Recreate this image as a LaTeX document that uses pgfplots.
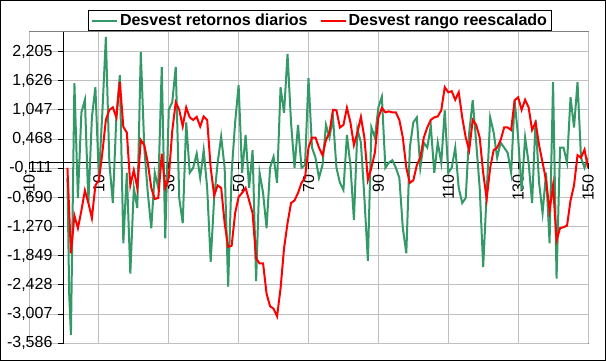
\documentclass[border=0pt]{standalone}
\usepackage{fontspec}
\setmainfont{Liberation Sans}
\usepackage{pgfplots}
\pgfplotsset{compat=1.18}
\usepackage{pgfplotstable}
\definecolor{sgreen}{HTML}{339966}
\definecolor{gridc}{HTML}{C0C0C0}
\definecolor{framec}{HTML}{808080}

\pgfplotstableread{
x y
1 -0.3
1.5 -2.6
2 -3.42
3 1.58
4 -0.7
5 1.0
6 1.25
7 -0.8
8 0.9
9 1.5
10 -0.3
11 1.0
12 2.5
13 0.0
14 -0.8
15 0.9
16 1.74
17 -1.6
18 -0.2
19 -2.2
20 -0.5
21 -0.9
22 2.2
23 0.3
24 -0.6
25 -1.3
26 -0.2
27 -0.5
28 1.9
29 -1.5
30 1.05
31 1.2
32 1.9
33 -0.7
34 -1.2
35 0.8
36 -0.2
37 -0.1
38 0.18
39 -0.3
40 0.25
41 -0.5
42 -1.97
43 -0.7
44 0.0
45 0.52
46 -0.1
47 -2.46
48 -0.2
49 0.8
50 1.54
51 -0.2
52 0.55
53 -0.5
54 0.25
55 -2.35
56 -0.2
57 -0.6
58 -1.3
59 -0.1
60 0.12
61 -0.4
62 1.5
63 0.99
64 2.16
65 0.8
66 -0.1
67 0.75
68 -0.1
69 -0.05
70 1.68
71 0.3
72 0.1
73 -0.3
74 -0.05
75 0.75
76 0.5
77 0.9
78 -0.1
79 -0.4
80 -0.54
81 0.55
82 -0.05
83 -1.14
84 0.67
85 0.4
86 -0.7
87 -1.95
88 0.7
89 0.5
90 1.1
91 1.31
92 -0.1
93 0.0
94 0.05
95 -0.1
96 -0.3
97 -1.3
98 -1.8
99 0.3
100 0.8
101 0.9
102 -0.1
103 0.4
104 0.3
105 0.73
106 -0.2
107 0.4
108 0.0
109 1.04
110 -0.2
111 -0.1
112 0.3
113 -0.5
114 -0.8
115 -0.7
116 0.6
117 1.24
118 0.4
119 -0.5
120 -2.07
121 -0.6
122 0.9
123 0.6
124 0.1
125 0.4
126 0.3
127 0.2
128 -0.2
129 1.24
130 0.5
131 -0.55
132 0.5
133 0.0
134 -0.8
135 0.85
136 -0.4
137 -1.0
138 -0.2
139 -1.6
140 1.6
141 -2.3
142 0.3
143 0.3
144 0.0
145 1.3
146 0.7
147 1.6
148 0.1
149 -0.1
150 0.1
}\greentab

\pgfplotstableread{
x y
1 -0.1
2 -1.8
3 -1.05
4 -1.3
5 -0.95
6 -0.55
7 -0.8
8 -1.1
9 -0.45
10 -0.35
11 0.2
12 0.85
13 1.05
14 1.1
15 0.9
16 1.61
17 0.71
18 0.6
19 -0.45
20 -0.15
21 -0.5
22 0.45
23 0.35
24 0.0
25 -0.5
26 -0.72
27 -0.7
28 0.18
29 -0.5
30 -0.3
31 0.63
32 1.2
33 1.05
34 0.72
35 1.1
36 0.9
37 0.85
38 0.91
39 0.72
40 0.92
41 0.85
42 -0.1
43 -0.65
44 -0.45
45 -0.5
46 -1.2
47 -1.67
48 -1.65
49 -1.0
50 -0.68
51 -0.6
52 -0.5
53 -0.75
54 -1.0
55 -1.9
56 -2.0
57 -2.0
58 -2.6
59 -2.85
60 -2.9
61 -3.05
62 -2.5
63 -1.7
64 -1.2
65 -0.8
66 -0.75
67 -0.6
68 -0.4
69 -0.3
70 0.3
71 0.5
72 0.5
73 0.3
74 0.15
75 0.45
76 0.6
77 1.05
78 1.04
79 0.7
80 0.75
81 1.09
82 0.8
83 0.35
84 0.6
85 0.91
86 0.5
87 -0.34
88 -0.1
89 0.2
90 0.9
91 1.09
92 1.0
93 1.02
94 1.0
95 1.0
96 0.85
97 0.5
98 -0.1
99 -0.4
100 -0.35
101 -0.05
102 0.1
103 0.5
104 0.7
105 0.85
106 0.9
107 0.92
108 1.04
109 1.5
110 1.4
111 1.42
112 1.25
113 1.4
114 0.9
115 0.5
116 0.25
117 0.85
118 0.75
119 0.5
120 -0.2
121 -0.72
122 -0.1
123 0.25
124 0.3
125 0.45
126 0.7
127 0.7
128 0.65
129 1.24
130 1.3
131 1.05
132 1.25
133 1.1
134 0.65
135 0.8
136 0.35
137 0.0
138 -0.35
139 -0.95
140 -0.45
141 -1.54
142 -1.3
143 -1.28
144 -1.25
145 -0.75
146 -0.45
147 0.15
148 0.1
149 0.26
150 -0.1
}\redtab

\begin{document}
\fontsize{16}{19}\selectfont
\begin{tikzpicture}
\useasboundingbox (0pt,0pt) rectangle (606pt,361pt);
\fill[white] (0pt,0pt) rectangle (606pt,361pt);
\draw[black,line width=1pt] (0.5pt,0.5pt) rectangle (605.5pt,360.5pt);
\begin{axis}[
  at={(29pt,17.7pt)}, anchor=south west,
  scale only axis, width=559pt, height=311.3pt,
  xmin=-10, xmax=150, ymin=-3.586, ymax=2.596,
  axis lines=middle,
  axis line style={black, line width=1pt, -},
  axis background/.style={draw=framec, line width=1pt, fill=white},
  grid=major,
  grid style={gridc, line width=1pt},
  xtick={-10,10,30,50,70,90,110,130,150},
  xticklabels={-10,10,30,50,70,90,110,130,150},
  ytick={-3.586,-3.007,-2.428,-1.849,-1.270,-0.690,-0.111,0.468,1.047,1.626,2.205},
  yticklabels={{-3,586},{-3,007},{-2,428},{-1,849},{-1,270},{-0,690},{-0,111},{0,468},{1,047},{1,626},{2,205}},
  tick align=outside,
  major tick length=6pt,
  tick style={black, line width=1pt},
  tick label style={font=\fontsize{16}{19}\selectfont},
  xticklabel style={rotate=90, anchor=east},
  legend columns=2,
  legend style={at={(0.5206,1)}, anchor=south, yshift=1pt,
    draw=black, line width=1pt, font=\fontsize{16}{19}\selectfont\bfseries,
    inner xsep=3pt, inner ysep=1pt,
    /tikz/every even column/.append style={column sep=10pt}},
  legend image code/.code={\draw[#1, line width=2pt] (0pt,0pt) -- (25pt,0pt);},
]
\addplot[sgreen, line width=2pt, sharp plot] table[x=x,y=y]{\greentab};
\addlegendentry{Desvest retornos diarios}
\addplot[red, line width=2pt, sharp plot] table[x=x,y=y]{\redtab};
\addlegendentry{Desvest rango reescalado}
\end{axis}
\end{tikzpicture}
\end{document}
